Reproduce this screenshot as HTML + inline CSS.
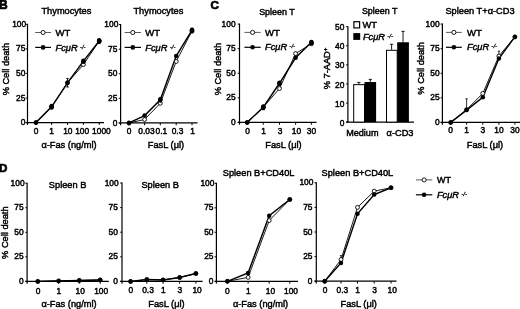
<!DOCTYPE html>
<html><head><meta charset="utf-8"><title>figure</title>
<style>html,body{margin:0;padding:0;background:#fff;}body{width:520px;height:309px;overflow:hidden;}svg{display:block;filter:blur(0.3px);}text{font-family:"Liberation Sans", sans-serif;fill:#000;stroke:#000;stroke-width:0.45px;}</style>
</head><body>
<svg width="520" height="309" viewBox="0 0 520 309">
<rect width="520" height="309" fill="#fff"/>
<text x="-1.10" y="8.70" font-size="12" text-anchor="start" font-weight="bold" font-style="normal" style="stroke-width:0.7px">B</text>
<text x="210.50" y="8.70" font-size="11.6" text-anchor="start" font-weight="bold" font-style="normal" style="stroke-width:0.7px">C</text>
<text x="-0.90" y="171.70" font-size="11.6" text-anchor="start" font-weight="bold" font-style="normal" style="stroke-width:0.7px">D</text>
<line x1="27.5" y1="23.8" x2="27.5" y2="124.89999999999999" stroke="#000" stroke-width="1.2"/>
<line x1="25.7" y1="122.6" x2="104" y2="122.6" stroke="#000" stroke-width="1.2"/>
<line x1="25.7" y1="122.60" x2="27.5" y2="122.60" stroke="#000" stroke-width="1"/>
<text x="25.30" y="125.20" font-size="8.4" text-anchor="end" font-weight="normal" font-style="normal" >0</text>
<line x1="25.7" y1="98.02" x2="27.5" y2="98.02" stroke="#000" stroke-width="1"/>
<text x="25.30" y="100.62" font-size="8.4" text-anchor="end" font-weight="normal" font-style="normal" >25</text>
<line x1="25.7" y1="73.45" x2="27.5" y2="73.45" stroke="#000" stroke-width="1"/>
<text x="25.30" y="76.05" font-size="8.4" text-anchor="end" font-weight="normal" font-style="normal" >50</text>
<line x1="25.7" y1="48.88" x2="27.5" y2="48.88" stroke="#000" stroke-width="1"/>
<text x="25.30" y="51.48" font-size="8.4" text-anchor="end" font-weight="normal" font-style="normal" >75</text>
<line x1="25.7" y1="24.30" x2="27.5" y2="24.30" stroke="#000" stroke-width="1"/>
<text x="26.20" y="26.90" font-size="8.4" text-anchor="end" font-weight="normal" font-style="normal" >100</text>
<line x1="36" y1="122.6" x2="36" y2="124.89999999999999" stroke="#000" stroke-width="1"/>
<text x="36.00" y="133.50" font-size="8.4" text-anchor="middle" font-weight="normal" font-style="normal" >0</text>
<line x1="51.6" y1="122.6" x2="51.6" y2="124.89999999999999" stroke="#000" stroke-width="1"/>
<text x="51.60" y="133.50" font-size="8.4" text-anchor="middle" font-weight="normal" font-style="normal" >1</text>
<line x1="67.5" y1="122.6" x2="67.5" y2="124.89999999999999" stroke="#000" stroke-width="1"/>
<text x="67.80" y="133.50" font-size="8.4" text-anchor="middle" font-weight="normal" font-style="normal" >10</text>
<line x1="83.4" y1="122.6" x2="83.4" y2="124.89999999999999" stroke="#000" stroke-width="1"/>
<text x="82.20" y="133.50" font-size="8.4" text-anchor="middle" font-weight="normal" font-style="normal" >100</text>
<line x1="99.2" y1="122.6" x2="99.2" y2="124.89999999999999" stroke="#000" stroke-width="1"/>
<text x="101.40" y="133.50" font-size="8.4" text-anchor="middle" font-weight="normal" font-style="normal" >1000</text>
<text x="66.40" y="14.20" font-size="9.25" text-anchor="middle" font-weight="normal" font-style="normal" >Thymocytes</text>
<text x="69.00" y="148.00" font-size="9.25" text-anchor="middle" font-weight="normal" font-style="normal" >α-Fas (ng/ml)</text>
<text transform="translate(8.80,69.15) rotate(-90)" font-size="9.25" text-anchor="middle">% Cell death</text>
<polyline points="36,122.60 51.6,106.87 67.5,82.79 83.4,64.60 99.2,41.01" fill="none" stroke="#000" stroke-width="0.9"/>
<polyline points="36,122.60 51.6,106.87 67.5,82.79 83.4,61.16 99.2,41.01" fill="none" stroke="#000" stroke-width="1.45"/>
<circle cx="36" cy="122.60" r="1.95" fill="#fff" stroke="#000" stroke-width="0.9"/>
<circle cx="51.6" cy="106.87" r="1.95" fill="#fff" stroke="#000" stroke-width="0.9"/>
<circle cx="67.5" cy="82.79" r="1.95" fill="#fff" stroke="#000" stroke-width="0.9"/>
<circle cx="83.4" cy="64.60" r="1.95" fill="#fff" stroke="#000" stroke-width="0.9"/>
<circle cx="99.2" cy="41.01" r="1.95" fill="#fff" stroke="#000" stroke-width="0.9"/>
<circle cx="36" cy="122.60" r="2.25" fill="#000"/>
<circle cx="51.6" cy="106.87" r="2.25" fill="#000"/>
<circle cx="67.5" cy="82.79" r="2.25" fill="#000"/>
<circle cx="83.4" cy="61.16" r="2.25" fill="#000"/>
<circle cx="99.2" cy="41.01" r="2.25" fill="#000"/>
<ellipse cx="51.6" cy="106.87" rx="2.2" ry="3.0" fill="#000"/>
<ellipse cx="99.2" cy="41.01" rx="2.2" ry="3.1" fill="#000"/>
<ellipse cx="83.4" cy="61.16" rx="2.2" ry="2.7" fill="#000"/>
<line x1="67.5" y1="78.56" x2="67.5" y2="87.02" stroke="#000" stroke-width="0.9"/>
<line x1="66.2" y1="78.56" x2="68.8" y2="78.56" stroke="#000" stroke-width="0.9"/>
<line x1="66.2" y1="87.02" x2="68.8" y2="87.02" stroke="#000" stroke-width="0.9"/>
<line x1="35.2" y1="32.5" x2="51.0" y2="32.5" stroke="#333" stroke-width="0.8"/>
<circle cx="43.1" cy="32.5" r="2.05" fill="#fff" stroke="#000" stroke-width="0.9"/>
<text x="55.5" y="35.60" font-size="9.5" text-anchor="start">WT</text>
<line x1="35.2" y1="47.4" x2="51.0" y2="47.4" stroke="#000" stroke-width="1.2"/>
<circle cx="43.1" cy="47.4" r="2.3" fill="#000"/>
<text x="55.5" y="50.50" font-size="9.3" text-anchor="start"><tspan font-style="italic">FcμR</tspan><tspan font-size="6.2" dy="-2.0" dx="2.2" font-style="italic" stroke-width="0.3">-/-</tspan></text>
<line x1="120.6" y1="24.1" x2="120.6" y2="125.25" stroke="#000" stroke-width="1.2"/>
<line x1="118.8" y1="122.95" x2="197.5" y2="122.95" stroke="#000" stroke-width="1.2"/>
<line x1="118.8" y1="122.95" x2="120.6" y2="122.95" stroke="#000" stroke-width="1"/>
<text x="117.40" y="125.55" font-size="8.4" text-anchor="end" font-weight="normal" font-style="normal" >0</text>
<line x1="118.8" y1="98.36" x2="120.6" y2="98.36" stroke="#000" stroke-width="1"/>
<text x="117.40" y="100.96" font-size="8.4" text-anchor="end" font-weight="normal" font-style="normal" >25</text>
<line x1="118.8" y1="73.78" x2="120.6" y2="73.78" stroke="#000" stroke-width="1"/>
<text x="117.40" y="76.38" font-size="8.4" text-anchor="end" font-weight="normal" font-style="normal" >50</text>
<line x1="118.8" y1="49.19" x2="120.6" y2="49.19" stroke="#000" stroke-width="1"/>
<text x="117.40" y="51.79" font-size="8.4" text-anchor="end" font-weight="normal" font-style="normal" >75</text>
<line x1="118.8" y1="24.60" x2="120.6" y2="24.60" stroke="#000" stroke-width="1"/>
<text x="118.30" y="27.20" font-size="8.4" text-anchor="end" font-weight="normal" font-style="normal" >100</text>
<line x1="129" y1="122.95" x2="129" y2="125.25" stroke="#000" stroke-width="1"/>
<text x="129.00" y="134.30" font-size="8.4" text-anchor="middle" font-weight="normal" font-style="normal" >0</text>
<line x1="144.6" y1="122.95" x2="144.6" y2="125.25" stroke="#000" stroke-width="1"/>
<text x="146.50" y="134.30" font-size="8.4" text-anchor="middle" font-weight="normal" font-style="normal" >0.03</text>
<line x1="160.3" y1="122.95" x2="160.3" y2="125.25" stroke="#000" stroke-width="1"/>
<text x="161.30" y="134.30" font-size="8.4" text-anchor="middle" font-weight="normal" font-style="normal" >0.1</text>
<line x1="176.2" y1="122.95" x2="176.2" y2="125.25" stroke="#000" stroke-width="1"/>
<text x="177.50" y="134.30" font-size="8.4" text-anchor="middle" font-weight="normal" font-style="normal" >0.3</text>
<line x1="192" y1="122.95" x2="192" y2="125.25" stroke="#000" stroke-width="1"/>
<text x="192.70" y="134.30" font-size="8.4" text-anchor="middle" font-weight="normal" font-style="normal" >1</text>
<text x="158.40" y="14.20" font-size="9.25" text-anchor="middle" font-weight="normal" font-style="normal" >Thymocytes</text>
<text x="166.00" y="148.00" font-size="9.25" text-anchor="middle" font-weight="normal" font-style="normal" >FasL (μl)</text>
<polyline points="129,122.95 144.6,119.51 160.3,103.28 176.2,61.48 192,30.99" fill="none" stroke="#000" stroke-width="0.9"/>
<polyline points="129,122.95 144.6,115.57 160.3,99.84 176.2,56.07 192,30.01" fill="none" stroke="#000" stroke-width="1.45"/>
<circle cx="129" cy="122.95" r="1.95" fill="#fff" stroke="#000" stroke-width="0.9"/>
<circle cx="144.6" cy="119.51" r="1.95" fill="#fff" stroke="#000" stroke-width="0.9"/>
<circle cx="160.3" cy="103.28" r="1.95" fill="#fff" stroke="#000" stroke-width="0.9"/>
<circle cx="176.2" cy="61.48" r="1.95" fill="#fff" stroke="#000" stroke-width="0.9"/>
<circle cx="192" cy="30.99" r="1.95" fill="#fff" stroke="#000" stroke-width="0.9"/>
<circle cx="129" cy="122.95" r="2.25" fill="#000"/>
<circle cx="144.6" cy="115.57" r="2.25" fill="#000"/>
<circle cx="160.3" cy="99.84" r="2.25" fill="#000"/>
<circle cx="176.2" cy="56.07" r="2.25" fill="#000"/>
<circle cx="192" cy="30.01" r="2.25" fill="#000"/>
<ellipse cx="192" cy="30.50" rx="2.2" ry="3.0" fill="#000"/>
<ellipse cx="160.3" cy="99.84" rx="2.2" ry="2.8" fill="#000"/>
<line x1="124.6" y1="32.5" x2="141" y2="32.5" stroke="#333" stroke-width="0.8"/>
<circle cx="132.8" cy="32.5" r="2.05" fill="#fff" stroke="#000" stroke-width="0.9"/>
<text x="145.3" y="35.60" font-size="9.5" text-anchor="start">WT</text>
<line x1="124.6" y1="47.4" x2="141" y2="47.4" stroke="#000" stroke-width="1.2"/>
<circle cx="132.8" cy="47.4" r="2.3" fill="#000"/>
<text x="145.3" y="50.50" font-size="9.3" text-anchor="start"><tspan font-style="italic">FcμR</tspan><tspan font-size="6.2" dy="-2.0" dx="2.2" font-style="italic" stroke-width="0.3">-/-</tspan></text>
<line x1="239.5" y1="23.6" x2="239.5" y2="124.7" stroke="#000" stroke-width="1.2"/>
<line x1="237.7" y1="122.4" x2="316.5" y2="122.4" stroke="#000" stroke-width="1.2"/>
<line x1="237.7" y1="122.40" x2="239.5" y2="122.40" stroke="#000" stroke-width="1"/>
<text x="235.60" y="125.00" font-size="8.4" text-anchor="end" font-weight="normal" font-style="normal" >0</text>
<line x1="237.7" y1="97.83" x2="239.5" y2="97.83" stroke="#000" stroke-width="1"/>
<text x="235.60" y="100.42" font-size="8.4" text-anchor="end" font-weight="normal" font-style="normal" >25</text>
<line x1="237.7" y1="73.25" x2="239.5" y2="73.25" stroke="#000" stroke-width="1"/>
<text x="235.60" y="75.85" font-size="8.4" text-anchor="end" font-weight="normal" font-style="normal" >50</text>
<line x1="237.7" y1="48.67" x2="239.5" y2="48.67" stroke="#000" stroke-width="1"/>
<text x="235.60" y="51.27" font-size="8.4" text-anchor="end" font-weight="normal" font-style="normal" >75</text>
<line x1="237.7" y1="24.10" x2="239.5" y2="24.10" stroke="#000" stroke-width="1"/>
<text x="235.60" y="26.70" font-size="8.4" text-anchor="end" font-weight="normal" font-style="normal" >100</text>
<line x1="247.2" y1="122.4" x2="247.2" y2="124.7" stroke="#000" stroke-width="1"/>
<text x="247.70" y="133.80" font-size="8.4" text-anchor="middle" font-weight="normal" font-style="normal" >0</text>
<line x1="263.3" y1="122.4" x2="263.3" y2="124.7" stroke="#000" stroke-width="1"/>
<text x="263.50" y="133.80" font-size="8.4" text-anchor="middle" font-weight="normal" font-style="normal" >1</text>
<line x1="279.5" y1="122.4" x2="279.5" y2="124.7" stroke="#000" stroke-width="1"/>
<text x="280.00" y="133.80" font-size="8.4" text-anchor="middle" font-weight="normal" font-style="normal" >3</text>
<line x1="295.6" y1="122.4" x2="295.6" y2="124.7" stroke="#000" stroke-width="1"/>
<text x="296.50" y="133.80" font-size="8.4" text-anchor="middle" font-weight="normal" font-style="normal" >10</text>
<line x1="311.4" y1="122.4" x2="311.4" y2="124.7" stroke="#000" stroke-width="1"/>
<text x="311.40" y="133.80" font-size="8.4" text-anchor="middle" font-weight="normal" font-style="normal" >30</text>
<text x="276.90" y="14.50" font-size="8.9" text-anchor="middle" font-weight="normal" font-style="normal" >Spleen T</text>
<text x="283.50" y="148.00" font-size="9.25" text-anchor="middle" font-weight="normal" font-style="normal" >FasL (μl)</text>
<text transform="translate(220.50,69.15) rotate(-90)" font-size="9.25" text-anchor="middle">% Cell death</text>
<polyline points="247.2,122.40 263.3,107.16 279.5,88.49 295.6,53.59 311.4,43.76" fill="none" stroke="#000" stroke-width="0.9"/>
<polyline points="247.2,122.40 263.3,107.16 279.5,83.28 295.6,57.82 311.4,42.19" fill="none" stroke="#000" stroke-width="1.45"/>
<circle cx="247.2" cy="122.40" r="1.95" fill="#fff" stroke="#000" stroke-width="0.9"/>
<circle cx="263.3" cy="107.16" r="1.95" fill="#fff" stroke="#000" stroke-width="0.9"/>
<circle cx="279.5" cy="88.49" r="1.95" fill="#fff" stroke="#000" stroke-width="0.9"/>
<circle cx="295.6" cy="53.59" r="1.95" fill="#fff" stroke="#000" stroke-width="0.9"/>
<circle cx="311.4" cy="43.76" r="1.95" fill="#fff" stroke="#000" stroke-width="0.9"/>
<circle cx="247.2" cy="122.40" r="2.25" fill="#000"/>
<circle cx="263.3" cy="107.16" r="2.25" fill="#000"/>
<circle cx="279.5" cy="83.28" r="2.25" fill="#000"/>
<circle cx="295.6" cy="57.82" r="2.25" fill="#000"/>
<circle cx="311.4" cy="42.19" r="2.25" fill="#000"/>
<ellipse cx="263.3" cy="107.26" rx="2.2" ry="3.1" fill="#000"/>
<ellipse cx="279.5" cy="83.28" rx="2.2" ry="2.8" fill="#000"/>
<ellipse cx="311.4" cy="42.58" rx="2.2" ry="2.9" fill="#000"/>
<line x1="244.4" y1="32.4" x2="260.7" y2="32.4" stroke="#333" stroke-width="0.8"/>
<circle cx="252.55" cy="32.4" r="2.05" fill="#fff" stroke="#000" stroke-width="0.9"/>
<text x="265" y="35.50" font-size="9.5" text-anchor="start">WT</text>
<line x1="244.4" y1="47.3" x2="260.7" y2="47.3" stroke="#000" stroke-width="1.2"/>
<circle cx="252.55" cy="47.3" r="2.3" fill="#000"/>
<text x="265" y="50.40" font-size="9.3" text-anchor="start"><tspan font-style="italic">FcμR</tspan><tspan font-size="6.2" dy="-2.0" dx="2.2" font-style="italic" stroke-width="0.3">-/-</tspan></text>
<line x1="442.4" y1="23.6" x2="442.4" y2="124.7" stroke="#000" stroke-width="1.2"/>
<line x1="440.59999999999997" y1="122.4" x2="520" y2="122.4" stroke="#000" stroke-width="1.2"/>
<line x1="440.59999999999997" y1="122.40" x2="442.4" y2="122.40" stroke="#000" stroke-width="1"/>
<text x="439.60" y="125.00" font-size="8.4" text-anchor="end" font-weight="normal" font-style="normal" >0</text>
<line x1="440.59999999999997" y1="97.83" x2="442.4" y2="97.83" stroke="#000" stroke-width="1"/>
<text x="439.60" y="100.42" font-size="8.4" text-anchor="end" font-weight="normal" font-style="normal" >25</text>
<line x1="440.59999999999997" y1="73.25" x2="442.4" y2="73.25" stroke="#000" stroke-width="1"/>
<text x="439.60" y="75.85" font-size="8.4" text-anchor="end" font-weight="normal" font-style="normal" >50</text>
<line x1="440.59999999999997" y1="48.67" x2="442.4" y2="48.67" stroke="#000" stroke-width="1"/>
<text x="439.60" y="51.27" font-size="8.4" text-anchor="end" font-weight="normal" font-style="normal" >75</text>
<line x1="440.59999999999997" y1="24.10" x2="442.4" y2="24.10" stroke="#000" stroke-width="1"/>
<text x="439.60" y="26.70" font-size="8.4" text-anchor="end" font-weight="normal" font-style="normal" >100</text>
<line x1="450.7" y1="122.4" x2="450.7" y2="124.7" stroke="#000" stroke-width="1"/>
<text x="450.70" y="133.30" font-size="8.4" text-anchor="middle" font-weight="normal" font-style="normal" >0</text>
<line x1="466.6" y1="122.4" x2="466.6" y2="124.7" stroke="#000" stroke-width="1"/>
<text x="466.60" y="133.30" font-size="8.4" text-anchor="middle" font-weight="normal" font-style="normal" >1</text>
<line x1="482.8" y1="122.4" x2="482.8" y2="124.7" stroke="#000" stroke-width="1"/>
<text x="482.80" y="133.30" font-size="8.4" text-anchor="middle" font-weight="normal" font-style="normal" >3</text>
<line x1="498.9" y1="122.4" x2="498.9" y2="124.7" stroke="#000" stroke-width="1"/>
<text x="498.90" y="133.30" font-size="8.4" text-anchor="middle" font-weight="normal" font-style="normal" >10</text>
<line x1="514.9" y1="122.4" x2="514.9" y2="124.7" stroke="#000" stroke-width="1"/>
<text x="514.90" y="133.30" font-size="8.4" text-anchor="middle" font-weight="normal" font-style="normal" >30</text>
<text x="480.00" y="14.20" font-size="9.25" text-anchor="middle" font-weight="normal" font-style="normal" >Spleen T+α-CD3</text>
<text x="485.00" y="148.00" font-size="9.25" text-anchor="middle" font-weight="normal" font-style="normal" >FasL (μl)</text>
<text transform="translate(423.50,68.45) rotate(-90)" font-size="9.25" text-anchor="middle">% Cell death</text>
<line x1="466.6" y1="98.81" x2="466.6" y2="109.62" stroke="#000" stroke-width="0.8"/>
<line x1="465.40000000000003" y1="98.81" x2="467.8" y2="98.81" stroke="#000" stroke-width="0.8"/>
<line x1="498.9" y1="51.13" x2="498.9" y2="56.05" stroke="#000" stroke-width="0.8"/>
<line x1="497.7" y1="51.13" x2="500.09999999999997" y2="51.13" stroke="#000" stroke-width="0.8"/>
<polyline points="450.7,122.40 466.6,109.62 482.8,93.40 498.9,56.05 514.9,36.88" fill="none" stroke="#000" stroke-width="0.9"/>
<polyline points="450.7,122.40 466.6,110.11 482.8,97.33 498.9,58.51 514.9,36.88" fill="none" stroke="#000" stroke-width="1.45"/>
<circle cx="450.7" cy="122.40" r="1.95" fill="#fff" stroke="#000" stroke-width="0.9"/>
<circle cx="466.6" cy="109.62" r="1.95" fill="#fff" stroke="#000" stroke-width="0.9"/>
<circle cx="482.8" cy="93.40" r="1.95" fill="#fff" stroke="#000" stroke-width="0.9"/>
<circle cx="498.9" cy="56.05" r="1.95" fill="#fff" stroke="#000" stroke-width="0.9"/>
<circle cx="514.9" cy="36.88" r="1.95" fill="#fff" stroke="#000" stroke-width="0.9"/>
<circle cx="450.7" cy="122.40" r="2.25" fill="#000"/>
<circle cx="466.6" cy="110.11" r="2.25" fill="#000"/>
<circle cx="482.8" cy="97.33" r="2.25" fill="#000"/>
<circle cx="498.9" cy="58.51" r="2.25" fill="#000"/>
<circle cx="514.9" cy="36.88" r="2.25" fill="#000"/>
<line x1="446" y1="32.4" x2="461.8" y2="32.4" stroke="#333" stroke-width="0.8"/>
<circle cx="453.9" cy="32.4" r="2.05" fill="#fff" stroke="#000" stroke-width="0.9"/>
<text x="467" y="35.50" font-size="9.5" text-anchor="start">WT</text>
<line x1="446" y1="47.3" x2="461.8" y2="47.3" stroke="#000" stroke-width="1.2"/>
<circle cx="453.9" cy="47.3" r="2.3" fill="#000"/>
<text x="467" y="50.40" font-size="9.3" text-anchor="start"><tspan font-style="italic">FcμR</tspan><tspan font-size="6.2" dy="-2.0" dx="2.2" font-style="italic" stroke-width="0.3">-/-</tspan></text>
<line x1="347.9" y1="26.2" x2="347.9" y2="122.6" stroke="#000" stroke-width="1.2"/>
<line x1="346.09999999999997" y1="122.1" x2="414" y2="122.1" stroke="#000" stroke-width="1.2"/>
<line x1="346.09999999999997" y1="122.10" x2="347.9" y2="122.10" stroke="#000" stroke-width="1"/>
<text x="344.30" y="125.70" font-size="8.4" text-anchor="end" font-weight="normal" font-style="normal" >0</text>
<line x1="346.09999999999997" y1="103.02" x2="347.9" y2="103.02" stroke="#000" stroke-width="1"/>
<text x="344.30" y="106.62" font-size="8.4" text-anchor="end" font-weight="normal" font-style="normal" >10</text>
<line x1="346.09999999999997" y1="83.94" x2="347.9" y2="83.94" stroke="#000" stroke-width="1"/>
<text x="344.30" y="87.54" font-size="8.4" text-anchor="end" font-weight="normal" font-style="normal" >20</text>
<line x1="346.09999999999997" y1="64.86" x2="347.9" y2="64.86" stroke="#000" stroke-width="1"/>
<text x="344.30" y="68.46" font-size="8.4" text-anchor="end" font-weight="normal" font-style="normal" >30</text>
<line x1="346.09999999999997" y1="45.78" x2="347.9" y2="45.78" stroke="#000" stroke-width="1"/>
<text x="344.30" y="49.38" font-size="8.4" text-anchor="end" font-weight="normal" font-style="normal" >40</text>
<line x1="346.09999999999997" y1="26.70" x2="347.9" y2="26.70" stroke="#000" stroke-width="1"/>
<text x="344.30" y="30.30" font-size="8.4" text-anchor="end" font-weight="normal" font-style="normal" >50</text>
<line x1="358.85" y1="82.41" x2="358.85" y2="84.13" stroke="#000" stroke-width="0.9"/>
<line x1="357.25" y1="82.41" x2="360.45000000000005" y2="82.41" stroke="#000" stroke-width="0.9"/>
<rect x="353.7" y="84.63" width="10.80" height="37.47" fill="#fff" stroke="#000" stroke-width="1"/>
<line x1="370.3" y1="79.36" x2="370.3" y2="82.03" stroke="#000" stroke-width="0.9"/>
<line x1="368.7" y1="79.36" x2="371.90000000000003" y2="79.36" stroke="#000" stroke-width="0.9"/>
<rect x="364.5" y="82.03" width="11.60" height="40.07" fill="#000"/>
<line x1="391.6" y1="44.25" x2="391.6" y2="49.79" stroke="#000" stroke-width="0.9"/>
<line x1="390.0" y1="44.25" x2="393.20000000000005" y2="44.25" stroke="#000" stroke-width="0.9"/>
<rect x="386.5" y="50.29" width="10.70" height="71.81" fill="#fff" stroke="#000" stroke-width="1"/>
<line x1="403.04999999999995" y1="31.37" x2="403.04999999999995" y2="42.25" stroke="#000" stroke-width="0.9"/>
<line x1="401.44999999999993" y1="31.37" x2="404.65" y2="31.37" stroke="#000" stroke-width="0.9"/>
<rect x="397.2" y="42.25" width="11.70" height="79.85" fill="#000"/>
<text x="379.70" y="14.10" font-size="8.95" text-anchor="middle" font-weight="normal" font-style="normal" >Spleen T</text>
<text x="362.30" y="135.70" font-size="9.1" text-anchor="middle" font-weight="normal" font-style="normal" >Medium</text>
<text x="400.00" y="135.70" font-size="9.25" text-anchor="middle" font-weight="normal" font-style="normal" >α-CD3</text>
<text transform="translate(329.6,68.5) rotate(-90)" font-size="9.25" text-anchor="middle">% 7-AAD<tspan font-size="6" dy="-3">+</tspan></text>
<rect x="353.9" y="21.7" width="5.7" height="6.2" fill="#fff" stroke="#000" stroke-width="1.2"/>
<rect x="353.3" y="33.1" width="6.9" height="6.8" fill="#000"/>
<text x="362.6" y="28.2" font-size="9.3" text-anchor="start">WT</text>
<text x="362.9" y="39.8" font-size="9.3" text-anchor="start"><tspan font-style="italic">FcμR</tspan><tspan font-size="6.2" dy="-2.0" dx="2.2" font-style="italic" stroke-width="0.3">-/-</tspan></text>
<line x1="27.1" y1="182.7" x2="27.1" y2="283.7" stroke="#000" stroke-width="1.2"/>
<line x1="25.3" y1="281.4" x2="108.8" y2="281.4" stroke="#000" stroke-width="1.2"/>
<line x1="25.3" y1="281.40" x2="27.1" y2="281.40" stroke="#000" stroke-width="1"/>
<text x="23.70" y="284.00" font-size="8.4" text-anchor="end" font-weight="normal" font-style="normal" >0</text>
<line x1="25.3" y1="256.85" x2="27.1" y2="256.85" stroke="#000" stroke-width="1"/>
<text x="23.70" y="259.45" font-size="8.4" text-anchor="end" font-weight="normal" font-style="normal" >25</text>
<line x1="25.3" y1="232.30" x2="27.1" y2="232.30" stroke="#000" stroke-width="1"/>
<text x="23.70" y="234.90" font-size="8.4" text-anchor="end" font-weight="normal" font-style="normal" >50</text>
<line x1="25.3" y1="207.75" x2="27.1" y2="207.75" stroke="#000" stroke-width="1"/>
<text x="23.70" y="210.35" font-size="8.4" text-anchor="end" font-weight="normal" font-style="normal" >75</text>
<line x1="25.3" y1="183.20" x2="27.1" y2="183.20" stroke="#000" stroke-width="1"/>
<text x="24.60" y="185.80" font-size="8.4" text-anchor="end" font-weight="normal" font-style="normal" >100</text>
<line x1="37.8" y1="281.4" x2="37.8" y2="283.7" stroke="#000" stroke-width="1"/>
<text x="38.00" y="294.20" font-size="8.4" text-anchor="middle" font-weight="normal" font-style="normal" >0</text>
<line x1="58.6" y1="281.4" x2="58.6" y2="283.7" stroke="#000" stroke-width="1"/>
<text x="58.90" y="294.20" font-size="8.4" text-anchor="middle" font-weight="normal" font-style="normal" >1</text>
<line x1="79.3" y1="281.4" x2="79.3" y2="283.7" stroke="#000" stroke-width="1"/>
<text x="80.20" y="294.20" font-size="8.4" text-anchor="middle" font-weight="normal" font-style="normal" >10</text>
<line x1="100.2" y1="281.4" x2="100.2" y2="283.7" stroke="#000" stroke-width="1"/>
<text x="101.20" y="294.20" font-size="8.4" text-anchor="middle" font-weight="normal" font-style="normal" >100</text>
<text x="67.60" y="187.80" font-size="9.25" text-anchor="middle" font-weight="normal" font-style="normal" >Spleen B</text>
<text x="69.00" y="307.00" font-size="9.25" text-anchor="middle" font-weight="normal" font-style="normal" >α-Fas (ng/ml)</text>
<text transform="translate(8.20,232.70) rotate(-90)" font-size="9.25" text-anchor="middle">% Cell death</text>
<polyline points="37.8,281.40 58.6,280.91 79.3,280.42 100.2,279.93" fill="none" stroke="#000" stroke-width="0.9"/>
<polyline points="37.8,281.40 58.6,280.91 79.3,280.42 100.2,279.93" fill="none" stroke="#000" stroke-width="1.45"/>
<circle cx="37.8" cy="281.40" r="1.95" fill="#fff" stroke="#000" stroke-width="0.9"/>
<circle cx="58.6" cy="280.91" r="1.95" fill="#fff" stroke="#000" stroke-width="0.9"/>
<circle cx="79.3" cy="280.42" r="1.95" fill="#fff" stroke="#000" stroke-width="0.9"/>
<circle cx="100.2" cy="279.93" r="1.95" fill="#fff" stroke="#000" stroke-width="0.9"/>
<circle cx="37.8" cy="281.40" r="2.25" fill="#000"/>
<circle cx="58.6" cy="280.91" r="2.25" fill="#000"/>
<circle cx="79.3" cy="280.42" r="2.25" fill="#000"/>
<circle cx="100.2" cy="279.93" r="2.25" fill="#000"/>
<line x1="122" y1="182.5" x2="122" y2="283.7" stroke="#000" stroke-width="1.2"/>
<line x1="120.2" y1="281.4" x2="202.6" y2="281.4" stroke="#000" stroke-width="1.2"/>
<line x1="120.2" y1="281.40" x2="122" y2="281.40" stroke="#000" stroke-width="1"/>
<text x="117.80" y="284.00" font-size="8.4" text-anchor="end" font-weight="normal" font-style="normal" >0</text>
<line x1="120.2" y1="256.80" x2="122" y2="256.80" stroke="#000" stroke-width="1"/>
<text x="117.80" y="259.40" font-size="8.4" text-anchor="end" font-weight="normal" font-style="normal" >25</text>
<line x1="120.2" y1="232.20" x2="122" y2="232.20" stroke="#000" stroke-width="1"/>
<text x="117.80" y="234.80" font-size="8.4" text-anchor="end" font-weight="normal" font-style="normal" >50</text>
<line x1="120.2" y1="207.60" x2="122" y2="207.60" stroke="#000" stroke-width="1"/>
<text x="117.80" y="210.20" font-size="8.4" text-anchor="end" font-weight="normal" font-style="normal" >75</text>
<line x1="120.2" y1="183.00" x2="122" y2="183.00" stroke="#000" stroke-width="1"/>
<text x="118.70" y="185.60" font-size="8.4" text-anchor="end" font-weight="normal" font-style="normal" >100</text>
<line x1="130.6" y1="281.4" x2="130.6" y2="283.7" stroke="#000" stroke-width="1"/>
<text x="130.90" y="293.10" font-size="8.4" text-anchor="middle" font-weight="normal" font-style="normal" >0</text>
<line x1="146.8" y1="281.4" x2="146.8" y2="283.7" stroke="#000" stroke-width="1"/>
<text x="148.00" y="293.10" font-size="8.4" text-anchor="middle" font-weight="normal" font-style="normal" >0.3</text>
<line x1="163.1" y1="281.4" x2="163.1" y2="283.7" stroke="#000" stroke-width="1"/>
<text x="163.40" y="293.10" font-size="8.4" text-anchor="middle" font-weight="normal" font-style="normal" >1</text>
<line x1="179.6" y1="281.4" x2="179.6" y2="283.7" stroke="#000" stroke-width="1"/>
<text x="179.90" y="293.10" font-size="8.4" text-anchor="middle" font-weight="normal" font-style="normal" >3</text>
<line x1="195.9" y1="281.4" x2="195.9" y2="283.7" stroke="#000" stroke-width="1"/>
<text x="197.10" y="293.10" font-size="8.4" text-anchor="middle" font-weight="normal" font-style="normal" >10</text>
<text x="160.20" y="187.80" font-size="9.25" text-anchor="middle" font-weight="normal" font-style="normal" >Spleen B</text>
<text x="166.50" y="307.00" font-size="9.25" text-anchor="middle" font-weight="normal" font-style="normal" >FasL (μl)</text>
<polyline points="130.6,281.40 146.8,279.63 163.1,279.92 179.6,277.46 195.9,273.53" fill="none" stroke="#000" stroke-width="0.9"/>
<polyline points="130.6,281.40 146.8,279.43 163.1,279.92 179.6,277.46 195.9,273.53" fill="none" stroke="#000" stroke-width="1.45"/>
<circle cx="130.6" cy="281.40" r="1.95" fill="#fff" stroke="#000" stroke-width="0.9"/>
<circle cx="146.8" cy="279.63" r="1.95" fill="#fff" stroke="#000" stroke-width="0.9"/>
<circle cx="163.1" cy="279.92" r="1.95" fill="#fff" stroke="#000" stroke-width="0.9"/>
<circle cx="179.6" cy="277.46" r="1.95" fill="#fff" stroke="#000" stroke-width="0.9"/>
<circle cx="195.9" cy="273.53" r="1.95" fill="#fff" stroke="#000" stroke-width="0.9"/>
<circle cx="130.6" cy="281.40" r="2.25" fill="#000"/>
<circle cx="146.8" cy="279.43" r="2.25" fill="#000"/>
<circle cx="163.1" cy="279.92" r="2.25" fill="#000"/>
<circle cx="179.6" cy="277.46" r="2.25" fill="#000"/>
<circle cx="195.9" cy="273.53" r="2.25" fill="#000"/>
<line x1="216.4" y1="182.8" x2="216.4" y2="283.6" stroke="#000" stroke-width="1.2"/>
<line x1="214.6" y1="281.3" x2="298.0" y2="281.3" stroke="#000" stroke-width="1.2"/>
<line x1="214.6" y1="281.30" x2="216.4" y2="281.30" stroke="#000" stroke-width="1"/>
<text x="213.50" y="283.90" font-size="8.4" text-anchor="end" font-weight="normal" font-style="normal" >0</text>
<line x1="214.6" y1="256.80" x2="216.4" y2="256.80" stroke="#000" stroke-width="1"/>
<text x="213.50" y="259.40" font-size="8.4" text-anchor="end" font-weight="normal" font-style="normal" >25</text>
<line x1="214.6" y1="232.30" x2="216.4" y2="232.30" stroke="#000" stroke-width="1"/>
<text x="213.50" y="234.90" font-size="8.4" text-anchor="end" font-weight="normal" font-style="normal" >50</text>
<line x1="214.6" y1="207.80" x2="216.4" y2="207.80" stroke="#000" stroke-width="1"/>
<text x="213.50" y="210.40" font-size="8.4" text-anchor="end" font-weight="normal" font-style="normal" >75</text>
<line x1="214.6" y1="183.30" x2="216.4" y2="183.30" stroke="#000" stroke-width="1"/>
<text x="214.40" y="185.90" font-size="8.4" text-anchor="end" font-weight="normal" font-style="normal" >100</text>
<line x1="227.4" y1="281.3" x2="227.4" y2="283.6" stroke="#000" stroke-width="1"/>
<text x="227.40" y="294.10" font-size="8.4" text-anchor="middle" font-weight="normal" font-style="normal" >0</text>
<line x1="248.1" y1="281.3" x2="248.1" y2="283.6" stroke="#000" stroke-width="1"/>
<text x="248.30" y="294.10" font-size="8.4" text-anchor="middle" font-weight="normal" font-style="normal" >1</text>
<line x1="269.2" y1="281.3" x2="269.2" y2="283.6" stroke="#000" stroke-width="1"/>
<text x="270.40" y="294.10" font-size="8.4" text-anchor="middle" font-weight="normal" font-style="normal" >10</text>
<line x1="289.8" y1="281.3" x2="289.8" y2="283.6" stroke="#000" stroke-width="1"/>
<text x="291.00" y="294.10" font-size="8.4" text-anchor="middle" font-weight="normal" font-style="normal" >100</text>
<text x="258.60" y="175.60" font-size="9.25" text-anchor="middle" font-weight="normal" font-style="normal" >Spleen B+CD40L</text>
<text x="260.50" y="307.00" font-size="9.25" text-anchor="middle" font-weight="normal" font-style="normal" >α-Fas (ng/ml)</text>
<polyline points="227.4,281.30 248.1,277.38 269.2,220.54 289.8,199.47" fill="none" stroke="#000" stroke-width="0.9"/>
<polyline points="227.4,281.30 248.1,272.97 269.2,215.64 289.8,199.47" fill="none" stroke="#000" stroke-width="1.45"/>
<circle cx="227.4" cy="281.30" r="1.95" fill="#fff" stroke="#000" stroke-width="0.9"/>
<circle cx="248.1" cy="277.38" r="1.95" fill="#fff" stroke="#000" stroke-width="0.9"/>
<circle cx="269.2" cy="220.54" r="1.95" fill="#fff" stroke="#000" stroke-width="0.9"/>
<circle cx="289.8" cy="199.47" r="1.95" fill="#fff" stroke="#000" stroke-width="0.9"/>
<circle cx="227.4" cy="281.30" r="2.25" fill="#000"/>
<circle cx="248.1" cy="272.97" r="2.25" fill="#000"/>
<circle cx="269.2" cy="215.64" r="2.25" fill="#000"/>
<circle cx="289.8" cy="199.47" r="2.25" fill="#000"/>
<line x1="316.3" y1="182.3" x2="316.3" y2="283.5" stroke="#000" stroke-width="1.2"/>
<line x1="314.5" y1="281.2" x2="396.5" y2="281.2" stroke="#000" stroke-width="1.2"/>
<line x1="314.5" y1="281.20" x2="316.3" y2="281.20" stroke="#000" stroke-width="1"/>
<text x="312.50" y="283.80" font-size="8.4" text-anchor="end" font-weight="normal" font-style="normal" >0</text>
<line x1="314.5" y1="256.60" x2="316.3" y2="256.60" stroke="#000" stroke-width="1"/>
<text x="312.50" y="259.20" font-size="8.4" text-anchor="end" font-weight="normal" font-style="normal" >25</text>
<line x1="314.5" y1="232.00" x2="316.3" y2="232.00" stroke="#000" stroke-width="1"/>
<text x="312.50" y="234.60" font-size="8.4" text-anchor="end" font-weight="normal" font-style="normal" >50</text>
<line x1="314.5" y1="207.40" x2="316.3" y2="207.40" stroke="#000" stroke-width="1"/>
<text x="312.50" y="210.00" font-size="8.4" text-anchor="end" font-weight="normal" font-style="normal" >75</text>
<line x1="314.5" y1="182.80" x2="316.3" y2="182.80" stroke="#000" stroke-width="1"/>
<text x="313.40" y="185.40" font-size="8.4" text-anchor="end" font-weight="normal" font-style="normal" >100</text>
<line x1="324.7" y1="281.2" x2="324.7" y2="283.5" stroke="#000" stroke-width="1"/>
<text x="325.20" y="292.90" font-size="8.4" text-anchor="middle" font-weight="normal" font-style="normal" >0</text>
<line x1="341" y1="281.2" x2="341" y2="283.5" stroke="#000" stroke-width="1"/>
<text x="342.30" y="292.90" font-size="8.4" text-anchor="middle" font-weight="normal" font-style="normal" >0.3</text>
<line x1="357.5" y1="281.2" x2="357.5" y2="283.5" stroke="#000" stroke-width="1"/>
<text x="357.70" y="292.90" font-size="8.4" text-anchor="middle" font-weight="normal" font-style="normal" >1</text>
<line x1="374.2" y1="281.2" x2="374.2" y2="283.5" stroke="#000" stroke-width="1"/>
<text x="374.60" y="292.90" font-size="8.4" text-anchor="middle" font-weight="normal" font-style="normal" >3</text>
<line x1="391" y1="281.2" x2="391" y2="283.5" stroke="#000" stroke-width="1"/>
<text x="392.20" y="292.90" font-size="8.4" text-anchor="middle" font-weight="normal" font-style="normal" >10</text>
<text x="357.40" y="175.60" font-size="9.25" text-anchor="middle" font-weight="normal" font-style="normal" >Spleen B+CD40L</text>
<text x="358.70" y="307.00" font-size="9.25" text-anchor="middle" font-weight="normal" font-style="normal" >FasL (μl)</text>
<line x1="341" y1="255.62" x2="341" y2="259.55" stroke="#000" stroke-width="0.8"/>
<line x1="339.8" y1="255.62" x2="342.2" y2="255.62" stroke="#000" stroke-width="0.8"/>
<polyline points="324.7,281.20 341,259.55 357.5,207.40 374.2,191.16 391,187.72" fill="none" stroke="#000" stroke-width="0.9"/>
<polyline points="324.7,281.20 341,263.00 357.5,213.80 374.2,194.61 391,187.72" fill="none" stroke="#000" stroke-width="1.45"/>
<circle cx="324.7" cy="281.20" r="1.95" fill="#fff" stroke="#000" stroke-width="0.9"/>
<circle cx="341" cy="259.55" r="1.95" fill="#fff" stroke="#000" stroke-width="0.9"/>
<circle cx="357.5" cy="207.40" r="1.95" fill="#fff" stroke="#000" stroke-width="0.9"/>
<circle cx="374.2" cy="191.16" r="1.95" fill="#fff" stroke="#000" stroke-width="0.9"/>
<circle cx="391" cy="187.72" r="1.95" fill="#fff" stroke="#000" stroke-width="0.9"/>
<circle cx="324.7" cy="281.20" r="2.25" fill="#000"/>
<circle cx="341" cy="263.00" r="2.25" fill="#000"/>
<circle cx="357.5" cy="213.80" r="2.25" fill="#000"/>
<circle cx="374.2" cy="194.61" r="2.25" fill="#000"/>
<circle cx="391" cy="187.72" r="2.25" fill="#000"/>
<line x1="415.9" y1="179.9" x2="432.3" y2="179.9" stroke="#333" stroke-width="0.8"/>
<circle cx="424.1" cy="179.9" r="2.05" fill="#fff" stroke="#000" stroke-width="0.9"/>
<text x="436.9" y="183.00" font-size="9.0" text-anchor="start">WT</text>
<line x1="415.9" y1="194.8" x2="432.3" y2="194.8" stroke="#000" stroke-width="1.2"/>
<circle cx="424.1" cy="194.8" r="2.3" fill="#000"/>
<text x="436.9" y="197.90" font-size="9.3" text-anchor="start"><tspan font-style="italic">FcμR</tspan><tspan font-size="6.2" dy="-2.0" dx="2.2" font-style="italic" stroke-width="0.3">-/-</tspan></text>
</svg></body></html>
